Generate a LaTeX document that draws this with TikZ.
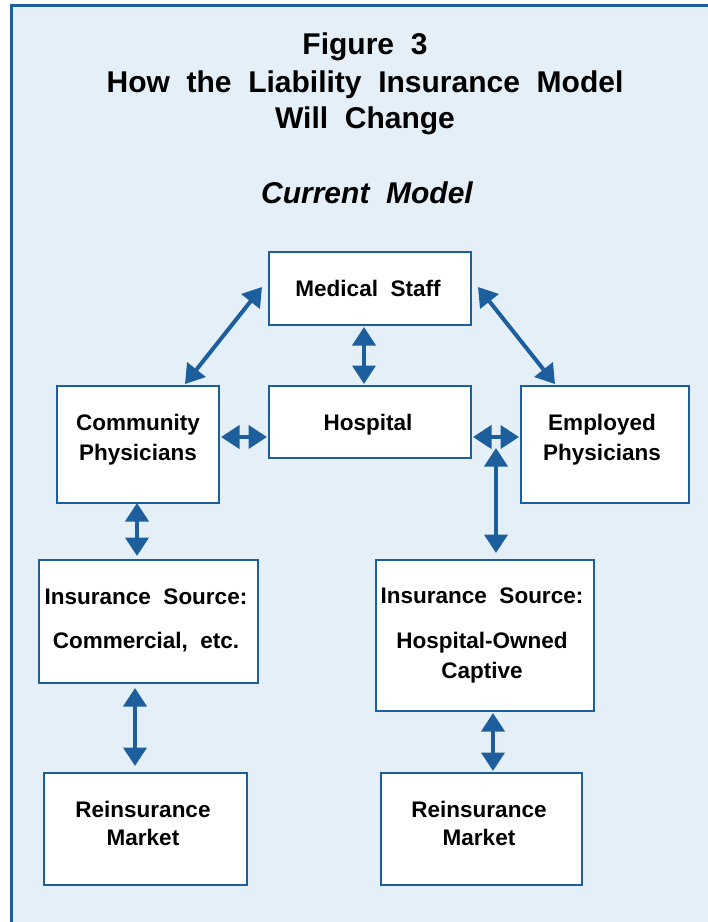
\documentclass[tikz,border=0pt]{standalone}
\usepackage{fontspec}
\setmainfont{Liberation Sans}[WordSpace=2]
\usetikzlibrary{arrows.meta,calc}
\definecolor{fblue}{HTML}{1D5F9C}
\definecolor{fbg}{HTML}{E4EFF7}
\tikzset{
  box/.style={draw=fblue, line width=2pt, fill=white, rectangle, inner sep=0pt},
  lbl/.style={anchor=base, inner sep=0pt, font=\fontsize{22.5}{26}\selectfont\bfseries},
  ttl/.style={anchor=base, inner sep=0pt, font=\fontsize{30}{36}\selectfont\bfseries},
  dar/.style={draw=fblue, line width=4pt,
    {Triangle[width=23pt,length=18.5pt]}-{Triangle[width=23pt,length=18.5pt]}},
}
\begin{document}
\begin{tikzpicture}[x=1pt,y=-1pt]
\useasboundingbox (0,0) rectangle (708,922);
\fill[fbg] (11.5,5.5) rectangle (708,922);
\draw[fblue, line width=3pt] (11.5,922) -- (11.5,5.5) -- (708,5.5);

% titles
\node[ttl] (t1) at (365,54) {Figure 3};
\node[ttl] (t2) at (365,92) {How the Liability Insurance Model};
\node[ttl] (t3) at (365,128) {Will Change};
\node[ttl, font=\fontsize{30}{36}\selectfont\bfseries\itshape] (t4) at (367,203) {Current Model};

% boxes
\node[box, minimum width=202pt, minimum height=73pt] (ms) at (370,288.5) {};
\node[box, minimum width=202pt, minimum height=72pt] (hosp) at (370,422) {};
\node[box, minimum width=162pt, minimum height=117pt] (comm) at (138,444.5) {};
\node[box, minimum width=168pt, minimum height=117pt] (emp) at (605,444.5) {};
\node[box, minimum width=219pt, minimum height=123pt] (ins1) at (148.5,621.5) {};
\node[box, minimum width=218pt, minimum height=151pt] (ins2) at (485,635.5) {};
\node[box, minimum width=203pt, minimum height=112pt] (re1) at (145.5,829) {};
\node[box, minimum width=201pt, minimum height=112pt] (re2) at (481.5,829) {};

% labels
\node[lbl] (ms-t) at (368,296) {Medical Staff};
\node[lbl] (hosp-t) at (368,430) {Hospital};
\node[lbl] (comm-t1) at (138,430) {Community};
\node[lbl] (comm-t2) at (138,460) {Physicians};
\node[lbl] (emp-t1) at (602,430) {Employed};
\node[lbl] (emp-t2) at (602,460) {Physicians};
\node[lbl] (ins1-t1) at (146,604) {Insurance Source:};
\node[lbl] (ins1-t2) at (146,648) {Commercial, etc.};
\node[lbl] (ins2-t1) at (482,603) {Insurance Source:};
\node[lbl] (ins2-t2) at (482,648) {Hospital-Owned};
\node[lbl] (ins2-t3) at (482,678) {Captive};
\node[lbl] (re1-t1) at (143,817) {Reinsurance};
\node[lbl] (re1-t2) at (143,845) {Market};
\node[lbl] (re2-t1) at (479,817) {Reinsurance};
\node[lbl] (re2-t2) at (479,845) {Market};

% connectors
\coordinate (jn) at (496,448);
\draw[dar] ($(ms.west)+(-6,-1.5)$) -- ($(comm.north)+(47,-1)$);
\draw[dar] ($(ms.east)+(6,-1.5)$) -- ($(emp.north)+(-50,-1)$);
\draw[dar] ($(ms.south)+(-6,1)$) -- ($(hosp.north)+(-6,-1)$);
\draw[dar] ($(comm.east)+(1,-7.5)$) -- ($(hosp.west)+(-1,15)$);
\draw[dar] ($(hosp.east)+(1,15)$) -- ($(emp.west)+(-1,-7.5)$);
\draw[dar] (jn) -- ($(ins2.north)+(11,-6)$);
\draw[dar] ($(comm.south)+(-1,-1)$) -- ($(ins1.north)+(-11.5,-3)$);
\draw[dar] ($(ins1.south)+(-13.5,4)$) -- ($(re1.north)+(-10.5,-6)$);
\draw[dar] ($(ins2.south)+(8,1)$) -- ($(re2.north)+(11.5,-1)$);
\end{tikzpicture}
\end{document}
